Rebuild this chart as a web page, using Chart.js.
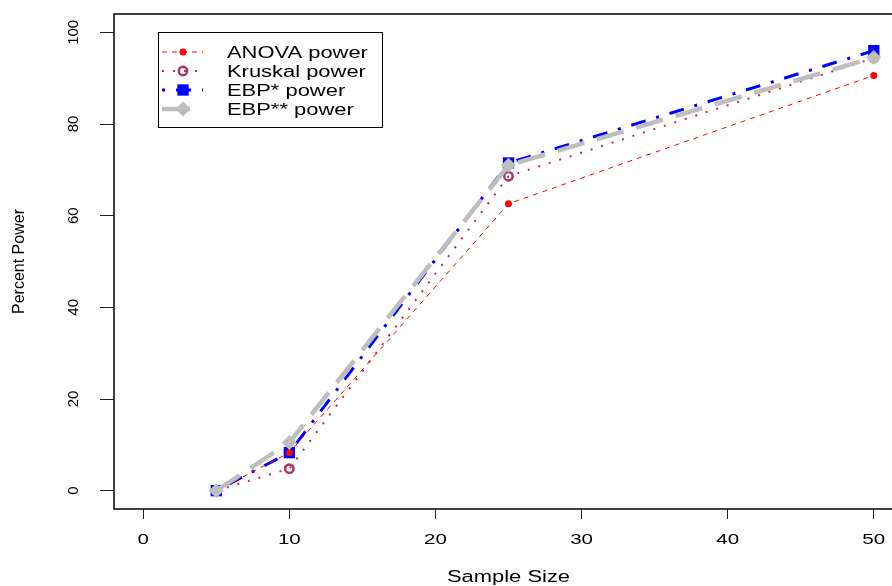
<!DOCTYPE html>
<html><head><meta charset="utf-8">
<script src="https://cdn.jsdelivr.net/npm/chart.js@4.4.1/dist/chart.umd.min.js"></script>
<style>html,body{margin:0;padding:0;overflow:hidden;background:#fff}canvas{display:block}</style>
</head><body>
<canvas id="c" width="912" height="586" style="width:912px;height:586px"></canvas>
<script>
const sampleSizes = [5, 10, 25, 50];
const anovaPower = [0, 8.3, 62.6, 90.6];
const kruskalPower = [0, 4.8, 68.6, 94.4];
const ebpStarPower = [0, 8.3, 71.5, 96.0];
const ebpStarStarPower = [0, 10.5, 71.0, 94.5];
const xTicks = [0, 10, 20, 30, 40, 50];
const yTicks = [0, 20, 40, 60, 80, 100];
const seriesNames = ['ANOVA power', 'Kruskal power', 'EBP* power', 'EBP** power'];
const xTitle = 'Sample Size';
const yTitle = 'Percent Power';

const FONT = '"Liberation Sans", Arial, Helvetica, sans-serif';
const SX = 1.37;

function pts(arr) { return sampleSizes.map((x, i) => ({x: x, y: arr[i]})); }

function txt(ctx, s, x, y, size, align, rot, stretch) {
  ctx.save();
  ctx.translate(x, y);
  if (stretch) ctx.scale(SX, 1);
  if (rot) ctx.rotate(rot);
  ctx.font = size + 'px ' + FONT;
  ctx.textAlign = align;
  ctx.textBaseline = 'alphabetic';
  ctx.fillStyle = '#000';
  ctx.fillText(s, 0, 0);
  ctx.restore();
}

function marker(ctx, ds, x, y) {
  const r = ds.pointRadius;
  ctx.save();
  ctx.setLineDash([]);
  ctx.fillStyle = ds.pointBackgroundColor;
  ctx.strokeStyle = ds.pointBorderColor;
  ctx.lineWidth = ds.pointBorderWidth;
  ctx.beginPath();
  if (ds.pointStyle === 'circle') {
    ctx.arc(x, y, r, 0, Math.PI * 2);
  } else if (ds.pointStyle === 'rect') {
    const s = Math.SQRT1_2 * r;
    ctx.rect(x - s, y - s, 2 * s, 2 * s);
  } else if (ds.pointStyle === 'rectRot') {
    ctx.moveTo(x, y - r); ctx.lineTo(x + r, y); ctx.lineTo(x, y + r); ctx.lineTo(x - r, y); ctx.closePath();
  }
  ctx.fill();
  if (ds.pointBorderWidth > 0) ctx.stroke();
  ctx.restore();
}

const decoPlugin = {
  id: 'rdeco',
  afterDraw(chart) {
    const ctx = chart.ctx;
    const a = chart.chartArea;
    const xs = chart.scales.x, ys = chart.scales.y;
    ctx.save();
    // plot box
    ctx.strokeStyle = '#000';
    ctx.lineWidth = 1.5;
    ctx.setLineDash([]);
    ctx.strokeRect(a.left, a.top, a.right - a.left, a.bottom - a.top);
    // tick labels
    xs.ticks.forEach(t => txt(ctx, String(t.value), xs.getPixelForValue(t.value), 544, 15, 'center', 0, true));
    ys.ticks.forEach(t => txt(ctx, String(t.value), 77.5, ys.getPixelForValue(t.value), 15, 'center', -Math.PI / 2, false));
    // axis titles
    txt(ctx, xTitle, (a.left + a.right) / 2, 582, 16, 'center', 0, true);
    txt(ctx, yTitle, 24, (a.top + a.bottom) / 2, 16, 'center', -Math.PI / 2, false);
    // legend
    ctx.lineWidth = 1;
    ctx.strokeStyle = '#000';
    ctx.strokeRect(158.5, 32.5, 224, 95);
    const rows = [52, 71, 90, 109];
    chart.data.datasets.forEach((ds, i) => {
      const y = rows[i];
      ctx.save();
      ctx.strokeStyle = ds.borderColor;
      ctx.lineWidth = ds.borderWidth;
      ctx.setLineDash(ds.borderDash);
      ctx.beginPath();
      ctx.moveTo(162, y); ctx.lineTo(203, y);
      ctx.stroke();
      ctx.restore();
      marker(ctx, ds, 183, y);
      txt(ctx, ds.label, 227, y + 6, 16, 'left', 0, true);
    });
    ctx.restore();
  }
};

new Chart(document.getElementById('c'), {
  type: 'line',
  data: {
    datasets: [
      {label: seriesNames[0], data: pts(anovaPower), borderColor: '#FF0000', borderWidth: 1, borderDash: [5, 5],
       pointStyle: 'circle', pointRadius: 3.5, pointBackgroundColor: '#FF0000', pointBorderColor: '#FF0000', pointBorderWidth: 0, order: 2},
      {label: seriesNames[1], data: pts(kruskalPower), borderColor: '#B03060', borderWidth: 2, borderDash: [2, 9],
       pointStyle: 'circle', pointRadius: 4.2, pointBackgroundColor: 'rgba(255,255,255,0)', pointBorderColor: '#B03060', pointBorderWidth: 2.5, order: 4},
      {label: seriesNames[2], data: pts(ebpStarPower), borderColor: '#0000FF', borderWidth: 3, borderDash: [3, 11, 15, 11],
       pointStyle: 'rect', pointRadius: 8, pointBackgroundColor: '#0000FF', pointBorderColor: '#0000FF', pointBorderWidth: 0, order: 3},
      {label: seriesNames[3], data: pts(ebpStarStarPower), borderColor: '#BEBEBE', borderWidth: 4.5, borderDash: [28, 13],
       pointStyle: 'rectRot', pointRadius: 7.5, pointBackgroundColor: '#BEBEBE', pointBorderColor: '#BEBEBE', pointBorderWidth: 0, order: 1}
    ]
  },
  options: {
    responsive: false,
    animation: false,
    devicePixelRatio: 1,
    layout: {padding: {left: 0, top: 14, right: 9, bottom: 0}},
    elements: {line: {tension: 0, fill: false, borderCapStyle: 'butt'}, point: {hoverRadius: 0}},
    plugins: {legend: {display: false}, tooltip: {enabled: false}, title: {display: false}},
    scales: {
      x: {
        type: 'linear', min: -2, max: 52,
        afterBuildTicks(s) { s.ticks = xTicks.map(v => ({value: v})); },
        afterFit(s) { s.height = 77; },
        ticks: {display: false},
        border: {display: false},
        grid: {drawOnChartArea: false, drawTicks: true, tickLength: 10, color: '#222', lineWidth: 1},
        title: {display: false, text: xTitle}
      },
      y: {
        type: 'linear', min: -4, max: 104,
        afterBuildTicks(s) { s.ticks = yTicks.map(v => ({value: v})); },
        afterFit(s) { s.width = 114; },
        ticks: {display: false},
        border: {display: false},
        grid: {drawOnChartArea: false, drawTicks: true, tickLength: 14, color: '#222', lineWidth: 1},
        title: {display: false, text: yTitle}
      }
    }
  },
  plugins: [decoPlugin]
});
</script>
</body></html>
